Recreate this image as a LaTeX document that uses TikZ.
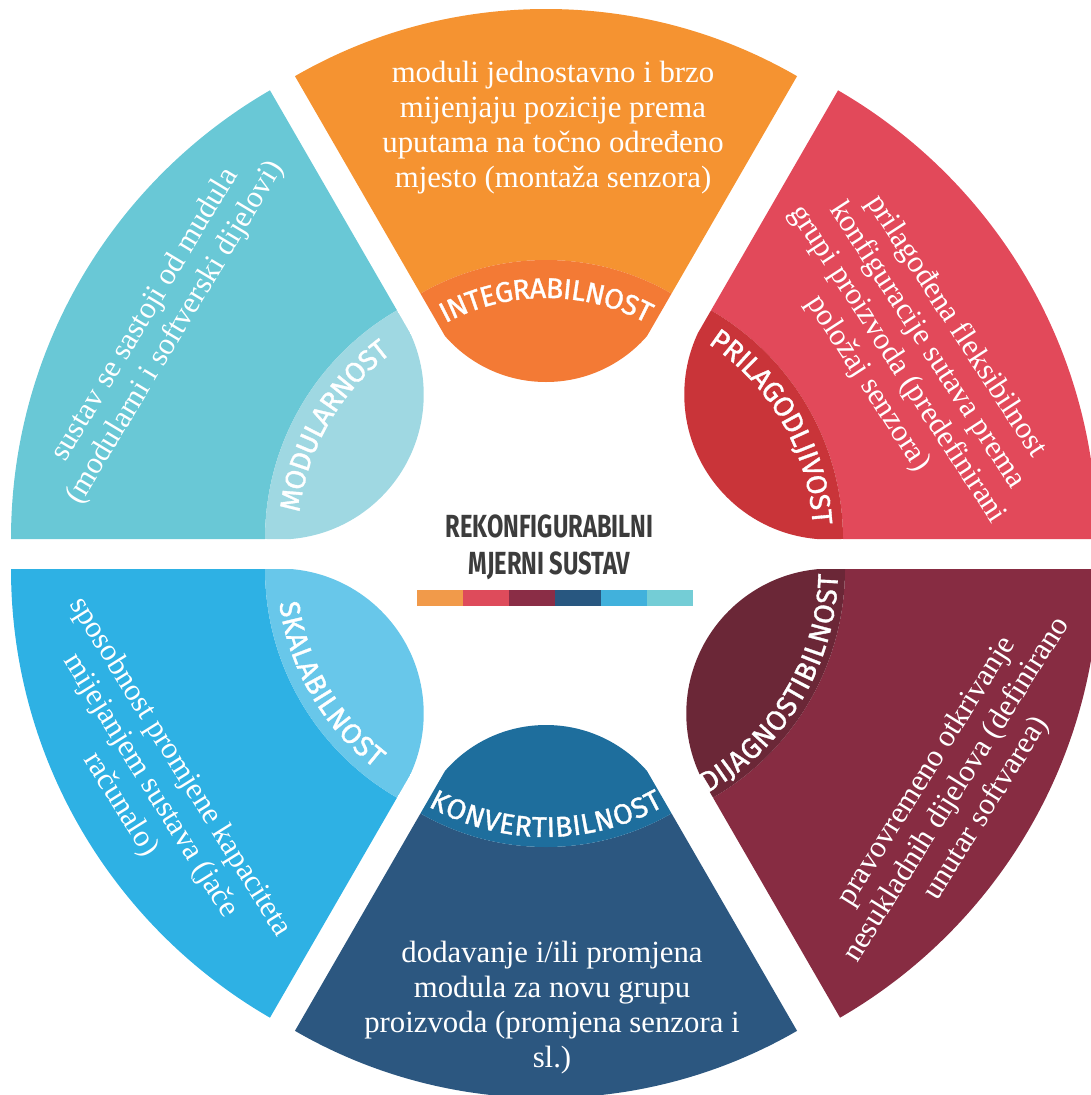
\documentclass[tikz,border=0pt]{standalone}
\usepackage{fontspec}
\setmainfont{Liberation Serif}
\newfontfamily\lblfont[FakeBold=1.2]{Fira Sans}
\newfontfamily\ttlfont[FakeStretch=0.74]{Fira Sans}
\usetikzlibrary{calc,decorations.text}
\definecolor{intM}{HTML}{F59331}
\definecolor{intC}{HTML}{F37A35}
\definecolor{priM}{HTML}{E2495A}
\definecolor{priC}{HTML}{C93439}
\definecolor{dijM}{HTML}{872C42}
\definecolor{dijC}{HTML}{6B2737}
\definecolor{konM}{HTML}{2C5780}
\definecolor{konC}{HTML}{1E6E9D}
\definecolor{skaM}{HTML}{2EB1E4}
\definecolor{skaC}{HTML}{68C7EA}
\definecolor{modM}{HTML}{69C8D6}
\definecolor{modC}{HTML}{9FD8E2}
\definecolor{barA}{HTML}{F19A4A}
\definecolor{barB}{HTML}{DE4B5B}
\definecolor{barC}{HTML}{8A2D46}
\definecolor{barD}{HTML}{285780}
\definecolor{barE}{HTML}{41B1DC}
\definecolor{barF}{HTML}{74CDD6}
\definecolor{ttl}{HTML}{3C3C3C}
\newcommand\lbl{\lblfont\fontsize{28.5}{28.5}\selectfont\color{white}}
% #1 apex, #2 #3 angles, #4 outer radius, #5 cap radius, #6 bump distance, #7 bump radius, #8 main colour, #9 cap colour
\newcommand\drawseg[9]{%
  \begin{scope}
    \clip (#1) -- +(#2:1200) -- +({(#2+#3)/2}:1500) -- +(#3:1200) -- cycle;
    \fill[#8, even odd rule] (#1) circle[radius=#4] (#1) circle[radius=#5];
    \clip (#1) circle[radius=#5];
    \fill[#9] ($(#1)+({(#2+#3)/2}:#6)$) circle[radius=#7];
  \end{scope}}
\tikzset{
  body/.style={text=white, font=\fontsize{30.8}{35}\selectfont, align=center, inner sep=0pt},
  lblpath/.style={decorate, decoration={text along path, text={|\lbl|#1}, text align=center, raise=-10pt}}
}
\begin{document}
\begin{tikzpicture}[x=1pt,y=1pt]
\useasboundingbox (0,0) rectangle (1091,-1095);
\clip (0,0) rectangle (1091,-1095);
\coordinate (A1) at (529,-539); % modularnost
\coordinate (A2) at (546,-511); % integrabilnost
\coordinate (A3) at (579,-539); % prilagodljivost
\coordinate (A4) at (581,-569); % dijagnostibilnost
\coordinate (A5) at (546,-596); % konvertibilnost
\coordinate (A6) at (529,-569); % skalabilnost

\drawseg{A2}{60}{120}{502}{251}{263}{134}{intM}{intC}
\drawseg{A1}{120}{180}{518}{264}{289}{145}{modM}{modC}
\drawseg{A6}{180}{240}{518}{264}{289}{145}{skaM}{skaC}
\drawseg{A5}{240}{300}{502}{251}{263}{134}{konM}{konC}
\drawseg{A4}{300}{360}{518}{264}{289}{145}{dijM}{dijC}
\drawseg{A3}{0}{60}{518}{264}{289}{145}{priM}{priC}

\node[body] (tint) at (553,-127.5) {moduli jednostavno i brzo\\mijenjaju pozicije prema\\uputama na točno određeno\\mjesto (montaža senzora)};
\node[body, rotate=59] (tmod) at (160.5,-324) {sustav se sastoji od mudula\\(modularni i softverski dijelovi)};
\node[body, rotate=-57] (tpri) at (912,-355) {prilagođena fleksibilnost\\konfiguracije sutava prema\\grupi proizvoda (predefinirani\\položaj senzora)};
\node[body, rotate=58] (tdij) at (957,-790) {pravovremeno otkrivanje\\nesukladnih dijelova (definirano\\unutar softvarea)};
\node[body, rotate=-58] (tska) at (150,-786) {sposobnost promjene kapaciteta\\mijejanjem sustava (jače\\računalo)};
\node[body] (tkon) at (552,-1008) {dodavanje i/ili promjena\\modula za novu grupu\\proizvoda (promjena senzora i\\sl.)};

\path[lblpath=INTEGRABILNOST] ($(A2)+(140:223)$) arc[start angle=140, end angle=40, radius=223];
\path[lblpath=MODULARNOST] ($(A1)+(195:241)$) arc[start angle=195, end angle=105, radius=241];
\path[lblpath=PRILAGODLJIVOST] ($(A3)+(75:244)$) arc[start angle=75, end angle=-15, radius=244];
\path[lblpath=DIJAGNOSTIBILNOST] ($(A4)+(284:247)$) arc[start angle=284, end angle=374, radius=247];
\path[lblpath=SKALABILNOST] ($(A6)+(165:242)$) arc[start angle=165, end angle=255, radius=242];
\path[lblpath=KONVERTIBILNOST] ($(A5)+(220:231)$) arc[start angle=220, end angle=320, radius=231];

\node[font=\ttlfont\bfseries\fontsize{32}{37}\selectfont, text=ttl, align=center, inner sep=0pt] (title) at (549.5,-547.5) {REKONFIGURABILNI\\MJERNI SUSTAV};
\foreach \c [count=\i from 0] in {barA,barB,barC,barD,barE,barF}
  \fill[\c] (417+46*\i,-590) rectangle ++(46,-16);
\end{tikzpicture}
\end{document}
